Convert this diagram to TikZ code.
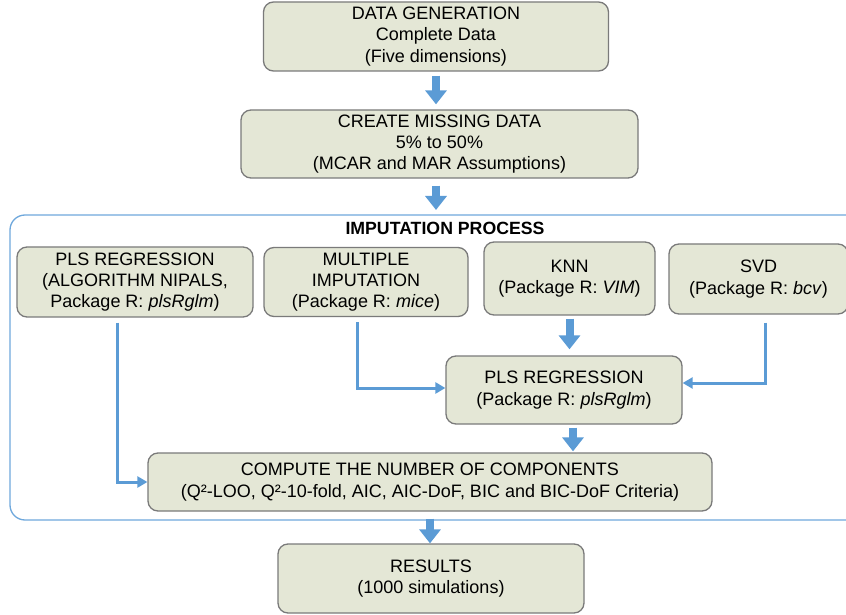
\documentclass[tikz,border=0pt]{standalone}
\usepackage{fontspec}
\setmainfont{Liberation Sans}
\usepackage{xcolor}
\usetikzlibrary{arrows.meta}
\usetikzlibrary{calc}

\definecolor{boxfill}{HTML}{E4E7D6}
\definecolor{boxline}{HTML}{7A7A7A}
\definecolor{flowblue}{HTML}{5B9BD5}
\definecolor{frameblue}{HTML}{6FA8DC}

\tikzset{
  stepbox/.style={draw=boxline, line width=1.3pt, fill=boxfill, rounded corners=10pt,
    align=center, inner sep=0pt, font=\fontsize{18}{21.2}\selectfont},
  bigarrow/.style={flowblue, line width=8pt, -{Triangle[width=21pt,length=14pt]}},
  elbowarrow/.style={flowblue, line width=3pt, -{Triangle[width=11pt,length=10pt]}}
}

\begin{document}
\begin{tikzpicture}[x=1pt,y=1pt]
\useasboundingbox (0,0) rectangle (846,614);
\clip (0,0) rectangle (846,614);

% imputation frame (runs past the right edge)
\draw[frameblue, line width=1.3pt, rounded corners=15pt] (10,94) rectangle (880,399);
\node[font=\fontsize{17.7}{20.8}\selectfont\bfseries] (title) at (445,386) {IMPUTATION PROCESS};
\coordinate (frametop) at (436,399);

\node[stepbox, minimum width=345, minimum height=69] (gen) at (436,577.5)
  {DATA GENERATION\\Complete Data\\(Five dimensions)};
\node[stepbox, minimum width=397, minimum height=68] (miss) at (439.5,470)
  {CREATE MISSING DATA\\5\% to 50\%\\(MCAR and MAR Assumptions)};

\node[stepbox, minimum width=236, minimum height=70] (pls1) at (135,332)
  {PLS REGRESSION\\(ALGORITHM NIPALS,\\Package R: \textit{plsRglm})};
\node[stepbox, minimum width=204, minimum height=69] (mult) at (366,332)
  {MULTIPLE\\IMPUTATION\\(Package R: \textit{mice})};
\node[stepbox, minimum width=171, minimum height=73] (knn) at (569.5,335.5)
  {KNN\\(Package R: \textit{VIM})};
\node[stepbox, minimum width=179, minimum height=70] (svd) at (758.5,335)
  {SVD\\(Package R: \textit{bcv})};

\node[stepbox, minimum width=236, minimum height=68] (pls2) at (564,224)
  {PLS REGRESSION\\(Package R: \textit{plsRglm})};
\node[stepbox, minimum width=564, minimum height=58] (comp) at (430,132)
  {COMPUTE THE NUMBER OF COMPONENTS\\(Q²-LOO, Q²-10-fold, AIC, AIC-DoF, BIC and BIC-DoF Criteria)};
\node[stepbox, minimum width=306, minimum height=69] (res) at (431,35.5)
  {RESULTS\\(1000 simulations)};

% main flow
\draw[bigarrow, shorten <=4pt, shorten >=5pt] (gen.south) -- (gen.south |- miss.north);
\draw[bigarrow, shorten <=7pt, shorten >=5pt] (miss.south -| frametop) -- (frametop);
\draw[bigarrow, shorten <=3pt, shorten >=6pt] (knn.south) -- (knn.south |- pls2.north);
\draw[bigarrow, shorten <=3pt, shorten >=1pt] ([xshift=9pt]pls2.south) -- ([xshift=9pt]pls2.south |- comp.north);
\draw[bigarrow, shorten <=7pt] (comp.south) -- (comp.south |- res.north);

% side branches
\draw[elbowarrow] ([xshift=-18pt,yshift=-5pt]pls1.south) |- (comp.west);
\draw[elbowarrow] ([xshift=-9pt,yshift=-5pt]mult.south) |- ([yshift=2pt]pls2.west);
\draw[elbowarrow] ([xshift=7pt,yshift=-8pt]svd.south) |- ([yshift=7pt]pls2.east);

\end{tikzpicture}
\end{document}
